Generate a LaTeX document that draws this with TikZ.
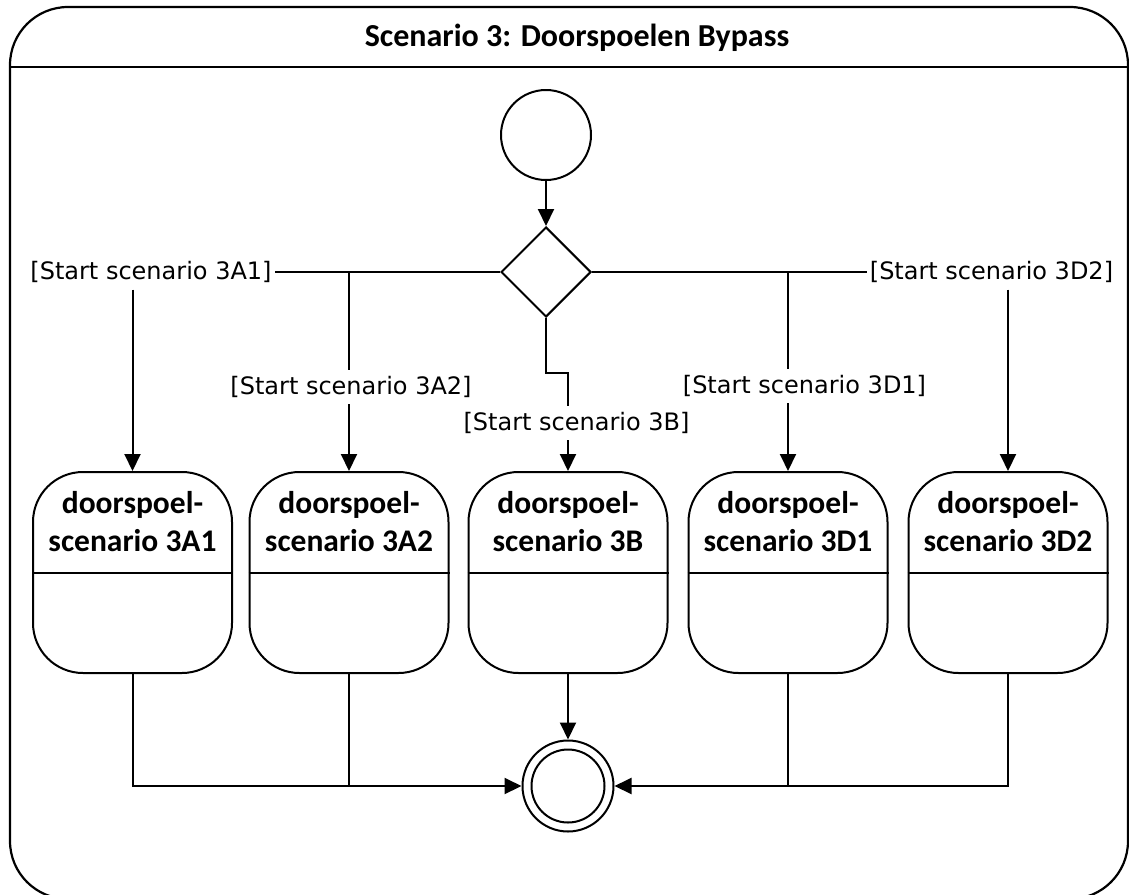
\documentclass[tikz,border=0pt]{standalone}
\usepackage{fontspec}
\setmainfont{Carlito}
\newfontfamily\lblfont{DejaVu Sans}
\usetikzlibrary{arrows.meta,shapes.geometric}
\begin{document}
\begin{tikzpicture}[x=1pt,y=-1pt,line width=2pt,
  arr/.style={-{Triangle[length=17pt,width=16pt]}},
  statebox/.style={draw,rounded corners=50pt,minimum width=199pt,minimum height=201pt,inner sep=0pt},
  boxtext/.style={font=\fontsize{31.5}{38}\selectfont\bfseries,align=center,inner sep=0pt},
  guard/.style={font=\lblfont\fontsize{24}{28}\selectfont,fill=white,inner xsep=2pt,inner ysep=6pt},
  initstate/.style={draw,circle,minimum size=90pt,inner sep=0pt},
  decision/.style={draw,diamond,minimum width=90pt,minimum height=90pt,inner sep=0pt},
  finalouter/.style={draw,circle,minimum size=91pt,inner sep=0pt},
  finalinner/.style={draw,circle,minimum size=73pt,inner sep=0pt}]
\useasboundingbox (0,0) rectangle (1129,894);
% frame
\node[draw,rounded corners=58pt,minimum width=1118pt,minimum height=892pt,inner sep=0pt,line width=2.2pt] (frame) at (569,453) {};
\coordinate (hl) at (10,67);
\coordinate (hr) at (1128,67);
\draw (hl) -- (hr);
\node[font=\fontsize{32}{36}\selectfont\bfseries,inner sep=0pt] (title) at (577,38) {Scenario 3: Doorspoelen Bypass};
% nodes
\node[initstate] (s) at (546,135) {};
\node[decision] (d) at (546,272) {};
\node[statebox] (b1) at (132.5,572.5) {};
\node[statebox] (b2) at (349,572.5) {};
\node[statebox] (b3) at (568,572.5) {};
\node[statebox] (b4) at (788,572.5) {};
\node[statebox] (b5) at (1008,572.5) {};
\foreach \b in {b1,b2,b3,b4,b5} \draw (\b.west) -- (\b.east);
\node[boxtext] (t1) at (132.5,522) {doorspoel-\\scenario 3A1};
\node[boxtext] (t2) at (349,522) {doorspoel-\\scenario 3A2};
\node[boxtext] (t3) at (568,522) {doorspoel-\\scenario 3B};
\node[boxtext] (t4) at (788,522) {doorspoel-\\scenario 3D1};
\node[boxtext] (t5) at (1008,522) {doorspoel-\\scenario 3D2};
\node[finalouter] (f) at (568,786) {};
\node[finalinner] (fi) at (568,786) {};
% connectors
\draw[arr] (s) -- (d);
\node[guard] (g1) at (151,272) {[Start scenario 3A1]};
\node[guard] (g5) at (991.5,272) {[Start scenario 3D2]};
\draw (d.west) -- (g1.east);
\draw (d.east) -- (g5.west);
\draw[arr] (g1.south -| b1.north) -- (b1.north);
\draw[arr] (g5.south -| b5.north) -- (b5.north);
\draw[arr] (d.west -| b2.north) -- (b2.north);
\draw[arr] (d.east -| b4.north) -- (b4.north);
\coordinate (j) at (546,373);
\draw[arr] (d.south) -- (j) -| (b3.north);
\node[guard] (g2) at (351,387) {[Start scenario 3A2]};
\node[guard] (g3) at (576.5,423) {[Start scenario 3B]};
\node[guard] (g4) at (804.5,386) {[Start scenario 3D1]};
\draw[arr] (b1.south) |- (f.west);
\draw (b2.south) -- (b2.south |- f.west);
\draw[arr] (b3.south) -- (f.north);
\draw[arr] (b5.south) |- (f.east);
\draw (b4.south) -- (b4.south |- f.east);
\end{tikzpicture}
\end{document}
